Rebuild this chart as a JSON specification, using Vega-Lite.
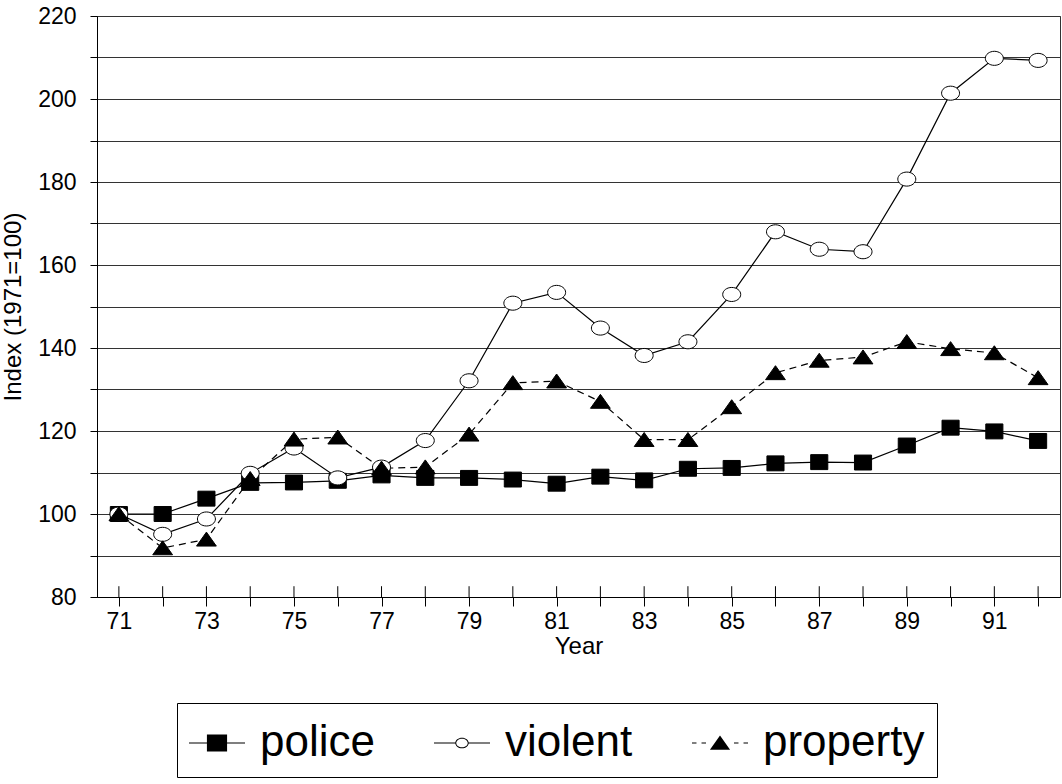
{
  "$schema": "https://vega.github.io/schema/vega-lite/v6.json",
  "width": 963,
  "height": 581,
  "autosize": {"type": "none"},
  "padding": {"left": 97, "top": 16, "right": 2, "bottom": 187},
  "background": "white",
  "config": {
    "font": "Liberation Sans",
    "view": {"stroke": "#333", "strokeWidth": 1},
    "axis": {"labelFont": "Liberation Sans", "titleFont": "Liberation Sans", "labelColor": "black", "titleColor": "black", "domainColor": "black", "tickColor": "black", "titleFontWeight": "normal"}
  },
  "data": {
    "values": [
      {"year": 71, "series": "police", "index": 100},
      {"year": 72, "series": "police", "index": 100},
      {"year": 73, "series": "police", "index": 103.7},
      {"year": 74, "series": "police", "index": 107.5},
      {"year": 75, "series": "police", "index": 107.6},
      {"year": 76, "series": "police", "index": 108},
      {"year": 77, "series": "police", "index": 109.3},
      {"year": 78, "series": "police", "index": 108.7},
      {"year": 79, "series": "police", "index": 108.7},
      {"year": 80, "series": "police", "index": 108.3},
      {"year": 81, "series": "police", "index": 107.3},
      {"year": 82, "series": "police", "index": 109},
      {"year": 83, "series": "police", "index": 108.1},
      {"year": 84, "series": "police", "index": 110.9},
      {"year": 85, "series": "police", "index": 111.1},
      {"year": 86, "series": "police", "index": 112.2},
      {"year": 87, "series": "police", "index": 112.5},
      {"year": 88, "series": "police", "index": 112.4},
      {"year": 89, "series": "police", "index": 116.5},
      {"year": 90, "series": "police", "index": 120.8},
      {"year": 91, "series": "police", "index": 119.9},
      {"year": 92, "series": "police", "index": 117.6},
      {"year": 71, "series": "violent", "index": 100},
      {"year": 72, "series": "violent", "index": 95.1},
      {"year": 73, "series": "violent", "index": 98.8},
      {"year": 74, "series": "violent", "index": 109.8},
      {"year": 75, "series": "violent", "index": 115.9},
      {"year": 76, "series": "violent", "index": 108.7},
      {"year": 77, "series": "violent", "index": 111.3},
      {"year": 78, "series": "violent", "index": 117.7},
      {"year": 79, "series": "violent", "index": 132.1},
      {"year": 80, "series": "violent", "index": 150.8},
      {"year": 81, "series": "violent", "index": 153.4},
      {"year": 82, "series": "violent", "index": 144.8},
      {"year": 83, "series": "violent", "index": 138.2},
      {"year": 84, "series": "violent", "index": 141.5},
      {"year": 85, "series": "violent", "index": 152.9},
      {"year": 86, "series": "violent", "index": 168},
      {"year": 87, "series": "violent", "index": 163.8},
      {"year": 88, "series": "violent", "index": 163.2},
      {"year": 89, "series": "violent", "index": 180.7},
      {"year": 90, "series": "violent", "index": 201.4},
      {"year": 91, "series": "violent", "index": 209.8},
      {"year": 92, "series": "violent", "index": 209.3},
      {"year": 71, "series": "property", "index": 100},
      {"year": 72, "series": "property", "index": 91.8},
      {"year": 73, "series": "property", "index": 93.9},
      {"year": 74, "series": "property", "index": 108.5},
      {"year": 75, "series": "property", "index": 118},
      {"year": 76, "series": "property", "index": 118.5},
      {"year": 77, "series": "property", "index": 111},
      {"year": 78, "series": "property", "index": 111.3},
      {"year": 79, "series": "property", "index": 119.2},
      {"year": 80, "series": "property", "index": 131.6},
      {"year": 81, "series": "property", "index": 132},
      {"year": 82, "series": "property", "index": 127.1},
      {"year": 83, "series": "property", "index": 117.9},
      {"year": 84, "series": "property", "index": 117.9},
      {"year": 85, "series": "property", "index": 125.8},
      {"year": 86, "series": "property", "index": 134},
      {"year": 87, "series": "property", "index": 137},
      {"year": 88, "series": "property", "index": 137.8},
      {"year": 89, "series": "property", "index": 141.5},
      {"year": 90, "series": "property", "index": 139.8},
      {"year": 91, "series": "property", "index": 138.8},
      {"year": 92, "series": "property", "index": 132.8}
    ]
  },
  "encoding": {
    "x": {
      "field": "year", "type": "quantitative",
      "scale": {"domain": [70.5, 92.5], "nice": false, "zero": false},
      "axis": {
        "values": [71,72,73,74,75,76,77,78,79,80,81,82,83,84,85,86,87,88,89,90,91,92],
        "labelExpr": "datum.value % 2 === 1 ? datum.label : ''",
        "grid": false, "tickSize": 9, "labelFontSize": 23, "labelPadding": 4,
        "title": "Year", "titleFontSize": 24, "titlePadding": 1
      }
    },
    "y": {
      "field": "index", "type": "quantitative",
      "scale": {"domain": [80, 220], "nice": false, "zero": false},
      "axis": {
        "values": [80,90,100,110,120,130,140,150,160,170,180,190,200,210,220],
        "labelExpr": "datum.value % 20 === 0 ? datum.label : ''",
        "grid": true, "gridColor": "#333", "gridWidth": 1, "gridOpacity": 1,
        "tickSize": 7, "labelFontSize": 23, "labelPadding": 14,
        "title": "Index (1971=100)", "titleFontSize": 24, "titlePadding": 12
      }
    }
  },
  "layer": [
    {
      "transform": [{"filter": "datum.series === 'police'"}],
      "mark": {"type": "rule", "color": "black", "strokeWidth": 1},
      "encoding": {
        "y": {"datum": 80},
        "y2": {"datum": 82.6}
      }
    },
    {
      "transform": [{"filter": "datum.series === 'police'"}],
      "mark": {"type": "line", "color": "black", "strokeWidth": 1.2},
      "encoding": {}
    },
    {
      "transform": [{"filter": "datum.series === 'violent'"}],
      "mark": {"type": "line", "color": "black", "strokeWidth": 1.2},
      "encoding": {}
    },
    {
      "transform": [{"filter": "datum.series === 'property'"}],
      "mark": {"type": "line", "color": "black", "strokeWidth": 1.2, "strokeDash": [7, 5]},
      "encoding": {}
    },
    {
      "mark": {"type": "point", "filled": true, "color": "black", "opacity": 0, "size": 10},
      "encoding": {
        "shape": {
          "field": "series", "type": "nominal",
          "scale": {
            "domain": ["police", "violent", "property"],
            "range": [
              "M-1,-0.02H1V0.02H-1ZM-0.36,-0.3H0.36V0.3H-0.36Z",
              "M-1,-0.02H-0.235V0.02H-1ZM0.235,-0.02H1V0.02H0.235ZM-0.24,0A0.24,0.19 0 1,1 0.24,0A0.24,0.19 0 1,1 -0.24,0ZM-0.205,0A0.205,0.155 0 1,0 0.205,0A0.205,0.155 0 1,0 -0.205,0Z",
              "M-1,-0.02H-0.84V0.02H-1ZM-0.66,-0.02H-0.5V0.02H-0.66ZM0.5,-0.02H0.66V0.02H0.5ZM0.84,-0.02H1V0.02H0.84ZM0,-0.27L0.36,0.24H-0.36Z"
            ]
          },
          "legend": {
            "orient": "none", "legendX": 80, "legendY": 687,
            "direction": "horizontal", "title": null,
            "strokeColor": "black", "fillColor": "white", "padding": 12,
            "symbolSize": 3136, "symbolOpacity": 1, "symbolFillColor": "black", "symbolStrokeWidth": 0,
            "labelOffset": 15, "columnPadding": 59,
            "labelFontSize": 44, "labelFont": "Liberation Sans", "labelColor": "black", "labelLimit": 400
          }
        }
      }
    },
    {
      "transform": [{"filter": "datum.series === 'police'"}],
      "mark": {"type": "point", "filled": true, "size": 324, "fill": "black", "stroke": "black", "strokeWidth": 1, "opacity": 1, "shape": "M-0.95,-0.83H0.95V0.83H-0.95Z"}
    },
    {
      "transform": [{"filter": "datum.series === 'violent'"}],
      "mark": {"type": "point", "filled": true, "size": 324, "fill": "white", "stroke": "black", "strokeWidth": 1, "opacity": 1, "shape": "M-1,0A1,0.78 0 1,0 1,0A1,0.78 0 1,0 -1,0Z"}
    },
    {
      "transform": [{"filter": "datum.series === 'property'"}],
      "mark": {"type": "point", "filled": true, "size": 324, "fill": "black", "stroke": "black", "strokeWidth": 1, "opacity": 1, "shape": "M0,-0.8L1.1,0.75H-1.1Z"}
    }
  ]
}
